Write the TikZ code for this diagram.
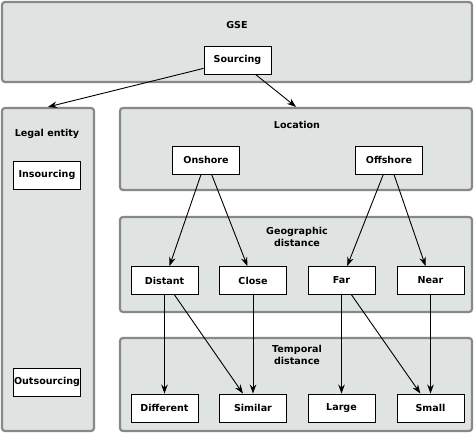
\documentclass[tikz,border=0pt]{standalone}
\usepackage{fontspec}
\setmainfont{DejaVu Sans}
\usetikzlibrary{arrows.meta}
\definecolor{panelfill}{HTML}{DFE4E3}
\definecolor{panelline}{HTML}{888888}
\begin{document}
\begin{tikzpicture}[x=1bp,y=-1bp,
  panel/.style={draw=panelline, fill=panelfill, line width=2.2bp, rounded corners=3bp, inner sep=0pt},
  item/.style={draw=black, fill=white, line width=0.9bp, minimum width=67bp, minimum height=28bp, inner sep=0pt, font=\fontsize{9.6}{11}\selectfont\bfseries},
  ptitle/.style={align=center, inner sep=0pt, font=\fontsize{9.6}{12}\selectfont\bfseries},
  arr/.style={-{Stealth[length=9bp,width=6.5bp]}, line width=0.9bp}]
\useasboundingbox (0,0) rectangle (475,433);
% panels
\node[panel, minimum width=470bp, minimum height=80bp] (gse) at (237,42) {};
\node[panel, minimum width=92bp, minimum height=323bp] (legal) at (48,269.5) {};
\node[panel, minimum width=352bp, minimum height=82bp] (loc) at (296,149) {};
\node[panel, minimum width=352bp, minimum height=95bp] (geo) at (296,264.5) {};
\node[panel, minimum width=352bp, minimum height=93bp] (temp) at (296,384.5) {};
% titles
\node[ptitle] (gset) at (237,25) {GSE};
\node[ptitle] (legalt) at (47,134) {Legal entity};
\node[ptitle] (loct) at (297,125) {Location};
\node[ptitle] (geot) at (297,237) {Geographic\\distance};
\node[ptitle] (tempt) at (297,355) {Temporal\\distance};
% items
\node[item] (sourcing) at (237.5,60) {Sourcing};
\node[item] (insourcing) at (47,175) {Insourcing};
\node[item] (outsourcing) at (47,382) {Outsourcing};
\node[item] (onshore) at (206,160) {Onshore};
\node[item] (offshore) at (389,160) {Offshore};
\node[item] (distant) at (164.5,280.5) {Distant};
\node[item] (close) at (253,280.5) {Close};
\node[item] (far) at (341.5,280.5) {Far};
\node[item] (near) at (430.5,280.5) {Near};
\node[item] (different) at (164.5,408) {Different};
\node[item] (similar) at (253,408) {Similar};
\node[item] (large) at (341.5,408) {Large};
\node[item] (small) at (430.5,408) {Small};
% arrows
\draw[arr] (sourcing) -- (legal.north);
\draw[arr] (sourcing) -- (loc.north);
\draw[arr] (onshore) -- (distant);
\draw[arr] (onshore) -- (close);
\draw[arr] (offshore) -- (far);
\draw[arr] (offshore) -- (near);
\draw[arr] (distant) -- (different);
\draw[arr] (distant) -- (similar);
\draw[arr] (close) -- (similar);
\draw[arr] (far) -- (large);
\draw[arr] (far) -- (small);
\draw[arr] (near) -- (small);
\end{tikzpicture}
\end{document}
